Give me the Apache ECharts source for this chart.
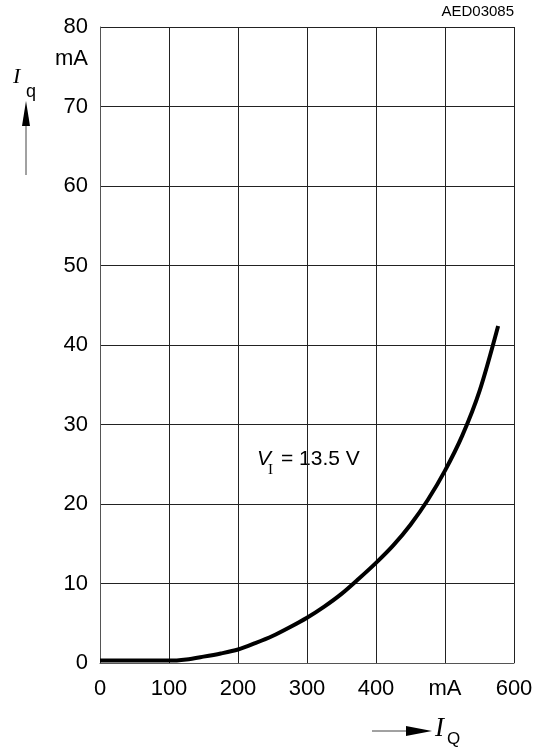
<!DOCTYPE html>
<html>
<head>
<meta charset="utf-8">
<script src="https://cdn.jsdelivr.net/npm/echarts@6/dist/echarts.min.js"></script>
<style>
  html, body { margin: 0; padding: 0; background: #fff; }
  #chart { width: 543px; height: 751px; }
</style>
</head>
<body>
<div id="chart"></div>
<script>
  // Iq vs IQ, VI = 13.5 V
  const iQ = [0, 25, 50, 75, 100, 125, 150, 175, 200, 225, 250, 275, 300, 325, 350, 375, 400, 425, 450, 475, 500, 525, 550, 577];
  const iq = [0.3, 0.3, 0.3, 0.3, 0.3, 0.45, 0.8, 1.2, 1.7, 2.5, 3.4, 4.5, 5.7, 7.1, 8.7, 10.6, 12.6, 14.8, 17.4, 20.5, 24.2, 28.6, 34.2, 42.4];
  const xTicks = ['0', '100', '200', '300', '400', 'mA', '600'];
  const yTicks = ['0', '10', '20', '30', '40', '50', '60', '70', '80'];

  const FONT = '"Liberation Sans", Arial, sans-serif';
  const SERIF = '"Liberation Serif", "DejaVu Serif", serif';

  const chart = echarts.init(document.getElementById('chart'));
  chart.setOption({
    animation: false,
    grid: { left: 100, right: 29, top: 27, bottom: 88 },
    xAxis: {
      type: 'value',
      min: 0, max: 600, interval: 100,
      axisLine: { show: true, lineStyle: { color: '#555', width: 1 } },
      axisTick: { show: false },
      axisLabel: {
        color: '#000', fontFamily: FONT, fontSize: 22, margin: 15,
        formatter: v => xTicks[v / 100]
      },
      splitLine: { show: true, lineStyle: { color: '#222', width: 1 } }
    },
    yAxis: {
      type: 'value',
      min: 0, max: 80, interval: 10,
      axisLine: { show: true, lineStyle: { color: '#555', width: 1 } },
      axisTick: { show: false },
      axisLabel: {
        color: '#000', fontFamily: FONT, fontSize: 22, margin: 12,
        formatter: v => yTicks[v / 10]
      },
      splitLine: { show: true, lineStyle: { color: '#222', width: 1 } }
    },
    series: [{
      type: 'line',
      data: iQ.map((x, i) => [x, iq[i]]),
      smooth: 0.3,
      symbol: 'none',
      lineStyle: { color: '#000', width: 4 }
    }],
    graphic: [
      { type: 'text', right: 29, top: 4, style: { text: 'AED03085', font: '15px ' + FONT, fill: '#000' } },
      { type: 'text', right: 455, top: 48, style: { text: 'mA', font: '22px ' + FONT, fill: '#000' } },
      // Iq label and upward arrow
      { type: 'text', left: 13, top: 66, style: { text: 'I', font: 'italic 22px ' + SERIF, fill: '#000' } },
      { type: 'text', left: 26, top: 83, style: { text: 'q', font: '18px ' + FONT, fill: '#000' } },
      { type: 'line', shape: { x1: 26, y1: 124, x2: 26, y2: 175 }, style: { stroke: '#444', lineWidth: 1 } },
      { type: 'polygon', shape: { points: [[26, 101], [22, 126], [30, 126]] }, style: { fill: '#000' } },
      // IQ label and right arrow
      { type: 'line', shape: { x1: 372, y1: 731, x2: 408, y2: 731 }, style: { stroke: '#444', lineWidth: 1 } },
      { type: 'polygon', shape: { points: [[432, 731], [406, 726], [406, 736]] }, style: { fill: '#000' } },
      { type: 'text', left: 435, top: 715, style: { text: 'I', font: 'italic 27px ' + SERIF, fill: '#000' } },
      { type: 'text', left: 447, top: 731, style: { text: 'Q', font: '17px ' + FONT, fill: '#000' } },
      // VI annotation
      { type: 'text', left: 257, top: 449, style: { text: 'V', font: 'italic 21px ' + FONT, fill: '#000' } },
      { type: 'text', left: 268, top: 463, style: { text: 'I', font: '15px ' + SERIF, fill: '#000' } },
      { type: 'text', left: 281, top: 449, style: { text: '= 13.5 V', font: '21px ' + FONT, fill: '#000' } }
    ]
  });
</script>
</body>
</html>
